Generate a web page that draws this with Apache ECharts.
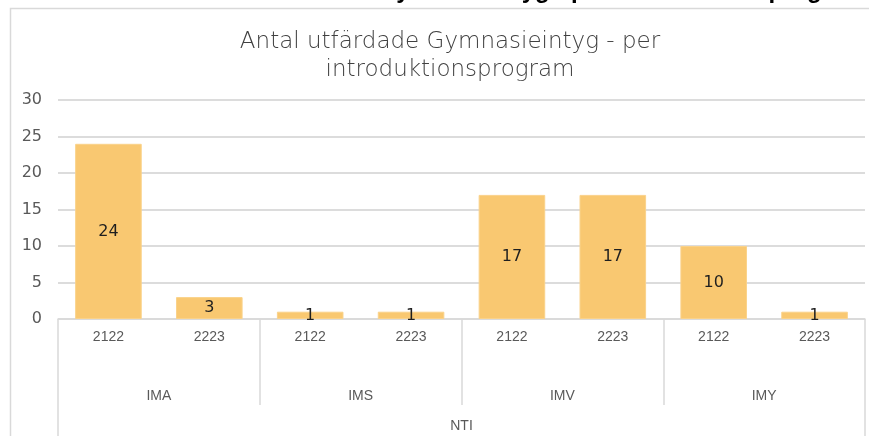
<!DOCTYPE html>
<html>
<head>
<meta charset="utf-8">
<script src="https://cdn.jsdelivr.net/npm/echarts@6/dist/echarts.min.js"></script>
<style>
html,body{margin:0;padding:0;background:#fff;}
#c{width:869px;height:436px;}
</style>
</head>
<body>
<div id="c"></div>
<script>
const categories = ['2122','2223','2122','2223','2122','2223','2122','2223'];
const groups = ['IMA','IMS','IMV','IMY'];
const topGroup = ['NTI'];
const values = [24, 3, 1, 1, 17, 17, 10, 1];
const yTicks = [0, 5, 10, 15, 20, 25, 30];
const titleText = 'Antal utfärdade Gymnasieintyg - per\nintroduktionsprogram';
const headingText = 'Antal utfärdade Gymnasieintyg - per introduktionsprogram';

const chart = echarts.init(document.getElementById('c'), null, {renderer:'canvas'});
const gray = '#595959';
const lineGray = '#d9d9d9';
const font = 'DejaVu Sans';

chart.setOption({
  animation: false,
  backgroundColor: '#fff',
  title: {
    text: titleText,
    left: 445, top: 23, textAlign: 'center',
    textStyle: {fontFamily: font, fontSize: 23, fontWeight: 200, color: '#404040', lineHeight: 28}
  },
  graphic: [
    {type:'rect', shape:{x:10.5, y:8.5, width:880, height:450}, style:{fill:'none', stroke:lineGray, lineWidth:1.5}, silent:true, z:-1},
    {type:'text', x: 0, y: 0, style:{text: headingText, x: 195, y: -8.5, fontFamily:'Liberation Sans', fontWeight:'bold', fontSize: 24, fill:'#000', textAlign:'left', textVerticalAlign:'middle'}, silent:true}
  ],
  grid: {left: 58, right: 4, top: 100, bottom: 117, containLabel: false},
  xAxis: [
    {
      type: 'category', data: categories, position: 'bottom',
      axisLine: {show: true, lineStyle: {color: lineGray, width: 1.5}},
      axisTick: {show: false},
      axisLabel: {interval: 0, margin: 11, color: gray, fontFamily: 'Liberation Sans', fontSize: 14}
    },
    {
      type: 'category', data: groups, position: 'bottom', gridIndex: 0,
      axisLine: {show: false},
      axisTick: {show: true, interval: 0, length: 86, lineStyle: {color: lineGray, width: 1.5}},
      axisLabel: {interval: 0, margin: 70, color: gray, fontFamily: 'Liberation Sans', fontSize: 14}
    },
    {
      type: 'category', data: topGroup, position: 'bottom', gridIndex: 0,
      axisLine: {show: false},
      axisTick: {show: true, interval: 0, length: 130, lineStyle: {color: lineGray, width: 1.5}},
      axisLabel: {interval: 0, margin: 100, color: gray, fontFamily: 'Liberation Sans', fontSize: 14}
    }
  ],
  yAxis: {
    type: 'value', min: yTicks[0], max: yTicks[yTicks.length-1], interval: 5,
    axisLine: {show: false}, axisTick: {show: false},
    axisLabel: {margin: 16, color: gray, fontFamily: font, fontSize: 16},
    splitLine: {lineStyle: {color: '#d0d0d0', width: 1.5}}
  },
  series: [{
    type: 'bar', data: values, xAxisIndex: 0,
    barCategoryGap: '34%',
    itemStyle: {color: '#F9C871', borderColor: '#FAD28A', borderWidth: 1},
    label: {show: true, position: 'inside', color: '#1f1f1f', fontFamily: font, fontSize: 16}
  }]
});
</script>
</body>
</html>
